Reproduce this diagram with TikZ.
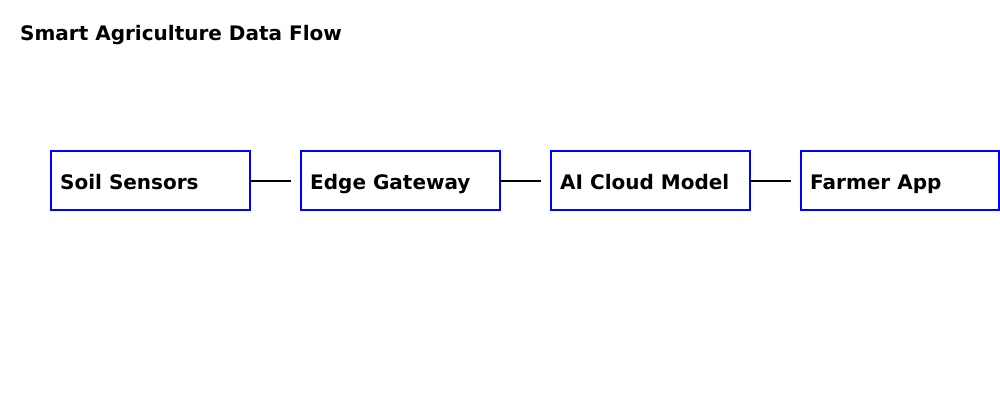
\documentclass[tikz,border=0pt]{standalone}
\usepackage{fontspec}
\setmainfont{DejaVu Sans}
\begin{document}
\begin{tikzpicture}[x=1pt,y=-1pt,
  box/.style={draw=blue,line width=1.5pt,fill=white},
  lbl/.style={anchor=base west,inner sep=0pt,font=\bfseries\fontsize{20}{24}\selectfont},
  conn/.style={draw=black,line width=1.5pt}]
\useasboundingbox[fill=white] (0,0) rectangle (1000,400);
\node[lbl] (title) at (20,40.5) {Smart Agriculture Data Flow};
\draw[box] (51,151) rectangle (250,210);
\draw[box] (301,151) rectangle (500,210);
\draw[box] (551,151) rectangle (750,210);
\draw[box] (801,151) rectangle (999,210);
\coordinate (b1r) at (250,181);
\coordinate (b2r) at (500,181);
\coordinate (b3r) at (750,181);
\coordinate (c1) at (291,181);
\coordinate (c2) at (541,181);
\coordinate (c3) at (791,181);
\node[lbl] (t1) at (60,189) {Soil Sensors};
\node[lbl] (t2) at (310,189) {Edge Gateway};
\node[lbl] (t3) at (560,189) {AI Cloud Model};
\node[lbl] (t4) at (810,189) {Farmer App};
\draw[conn] (b1r) -- (c1);
\draw[conn] (b2r) -- (c2);
\draw[conn] (b3r) -- (c3);
\end{tikzpicture}
\end{document}
